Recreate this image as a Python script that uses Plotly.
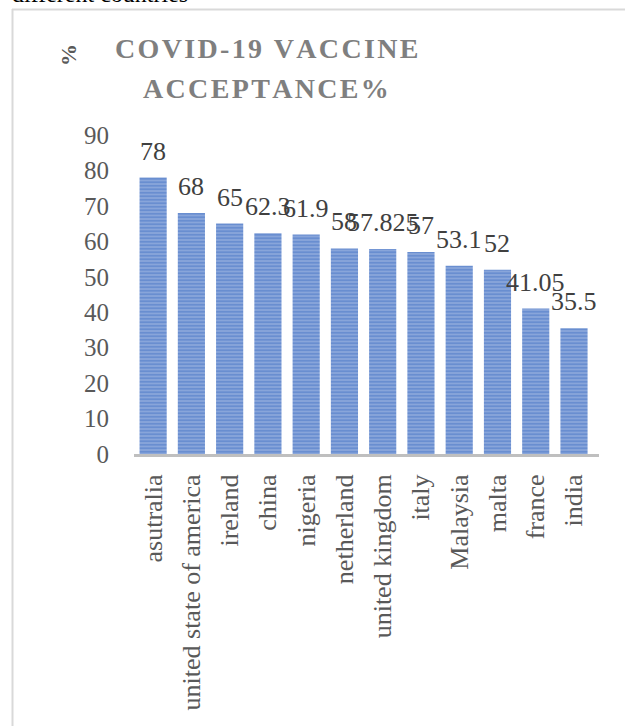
import plotly.graph_objects as go

countries = ["asutralia", "united state of america", "ireland", "china", "nigeria",
             "netherland", "united kingdom", "italy", "Malaysia", "malta", "france", "india"]
acceptance = [78, 68, 65, 62.3, 61.9, 58, 57.825, 57, 53.1, 52, 41.05, 35.5]
y_ticks = [0, 10, 20, 30, 40, 50, 60, 70, 80, 90]
title_lines = ["COVID-19 VACCINE", "ACCEPTANCE%"]
y_title = "%"
caption = "different countries"

W, H = 625, 726
L, R, T, B = 134, 26, 135, 272
FONT = "Liberation Serif, Times New Roman, serif"


def px2x(px):
    return (px - L) / (W - L - R)


def px2y(py):
    return (H - B - py) / (H - B - T)


def spaced(s):
    return "\u200a".join(list(s))


fig = go.Figure()
fig.add_trace(go.Bar(
    x=countries, y=acceptance,
    marker=dict(
        color="#7F9DD6",
        line=dict(width=0),
        pattern=dict(shape="-", fgcolor="#4472C4", bgcolor="#8FAADC",
                     size=3.5, solidity=0.6, fillmode="overlay"),
    ),
    hoverinfo="skip",
))

annotations = []
for c, v in zip(countries, acceptance):
    annotations.append(dict(
        x=c, y=v, xref="x", yref="y", text=f"{v:g}", showarrow=False,
        yanchor="bottom", yshift=10,
        font=dict(family=FONT, size=26, color="#404040"),
    ))

annotations.append(dict(
    x=px2x(266), y=px2y(49), xref="paper", yref="paper", text="<b>" + spaced(title_lines[0]) + "</b>",
    showarrow=False, xanchor="center", yanchor="middle",
    font=dict(family=FONT, size=28, color="#7F7F7F"),
))
annotations.append(dict(
    x=px2x(266), y=px2y(88), xref="paper", yref="paper", text="<b>" + spaced(title_lines[1]) + "</b>",
    showarrow=False, xanchor="center", yanchor="middle",
    font=dict(family=FONT, size=28, color="#7F7F7F"),
))
annotations.append(dict(
    x=px2x(68), y=px2y(55), xref="paper", yref="paper", text="<b>" + y_title + "</b>",
    showarrow=False, xanchor="center", yanchor="middle", textangle=-90,
    font=dict(family=FONT, size=22, color="#595959"),
))
annotations.append(dict(
    x=px2x(10), y=px2y(9), xref="paper", yref="paper", text=caption,
    showarrow=False, xanchor="left", yanchor="bottom",
    font=dict(family=FONT, size=24, color="#000000"),
))

shapes = [
    dict(type="line", xref="paper", yref="paper", x0=px2x(12.5), x1=px2x(12.5),
         y0=px2y(9), y1=px2y(730), line=dict(color="#D9D9D9", width=2)),
    dict(type="line", xref="paper", yref="paper", x0=px2x(12), x1=px2x(630),
         y0=px2y(9.5), y1=px2y(9.5), line=dict(color="#D9D9D9", width=2)),
]

fig.update_layout(
    width=W, height=H,
    margin=dict(l=L, r=R, t=T, b=B, pad=0),
    paper_bgcolor="white", plot_bgcolor="white",
    showlegend=False,
    bargap=0.29,
    annotations=annotations,
    shapes=shapes,
    font=dict(family=FONT, color="#595959"),
)
fig.update_xaxes(
    type="category", tickangle=-90, showgrid=False,
    showline=True, linecolor="#BFBFBF", linewidth=3,
    ticks="", ticklabelstandoff=7,
    tickfont=dict(family=FONT, size=26, color="#595959"),
)
fig.update_yaxes(
    range=[0, 90], tickvals=y_ticks, showgrid=False, zeroline=False,
    showline=False, ticks="", ticklabelstandoff=24,
    tickfont=dict(family=FONT, size=25, color="#595959"),
)

fig.write_html("out.html")
